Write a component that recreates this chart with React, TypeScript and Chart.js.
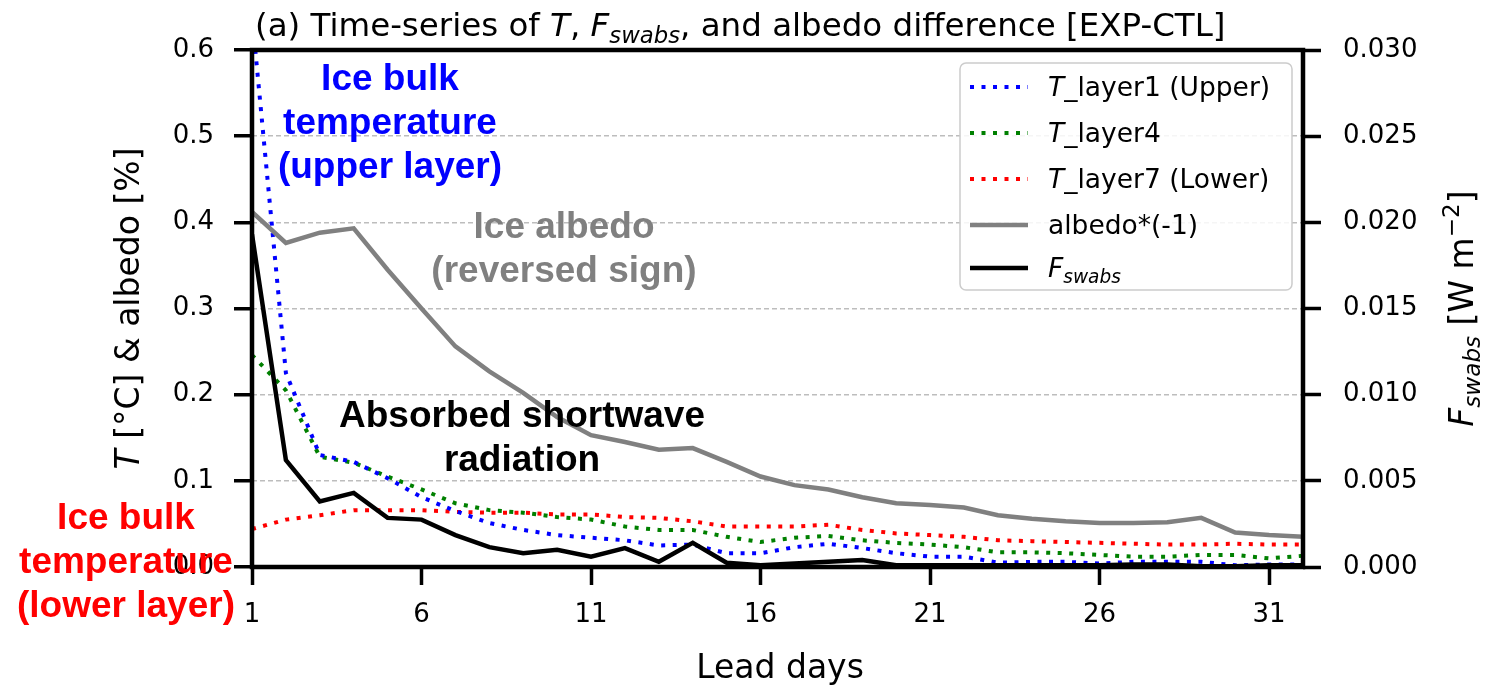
import React, { useEffect, useRef } from "react";
import { Chart, registerables } from "chart.js";

Chart.register(...registerables);

// ---------- data ----------
const days = [1, 2, 3, 4, 5, 6, 7, 8, 9, 10, 11, 12, 13, 14, 15, 16, 17, 18, 19, 20, 21, 22, 23, 24, 25, 26, 27, 28, 29, 30, 31, 32];

const tLayer1 = [0.64, 0.225, 0.13, 0.122, 0.103, 0.081, 0.065, 0.051, 0.043, 0.037, 0.034, 0.031, 0.025, 0.026, 0.016, 0.016, 0.023, 0.027, 0.022, 0.016, 0.012, 0.012, 0.005, 0.006, 0.006, 0.004, 0.006, 0.006, 0.006, 0.002, 0.003, 0.003];

const tLayer4 = [0.246, 0.205, 0.128, 0.121, 0.105, 0.09, 0.074, 0.066, 0.063, 0.058, 0.055, 0.047, 0.043, 0.043, 0.035, 0.029, 0.034, 0.036, 0.031, 0.028, 0.026, 0.023, 0.017, 0.017, 0.016, 0.014, 0.012, 0.012, 0.014, 0.014, 0.01, 0.013];

const tLayer7 = [0.044, 0.055, 0.06, 0.066, 0.066, 0.066, 0.064, 0.063, 0.063, 0.061, 0.061, 0.058, 0.057, 0.053, 0.047, 0.047, 0.047, 0.049, 0.043, 0.039, 0.037, 0.035, 0.031, 0.03, 0.029, 0.028, 0.027, 0.026, 0.026, 0.027, 0.026, 0.026];

const albedoNeg = [0.412, 0.376, 0.388, 0.393, 0.345, 0.3, 0.256, 0.227, 0.202, 0.174, 0.153, 0.145, 0.136, 0.138, 0.122, 0.105, 0.095, 0.09, 0.081, 0.074, 0.072, 0.069, 0.06, 0.056, 0.053, 0.051, 0.051, 0.052, 0.057, 0.04, 0.037, 0.035];

const fSwabs = [0.0193, 0.0062, 0.0038, 0.0043, 0.00285, 0.00275, 0.00185, 0.00115, 0.0008, 0.001, 0.0006, 0.0011, 0.0003, 0.0014, 0.00025, 0.0001, 0.0002, 0.0003, 0.0004, 0.0001, 0.0001, 0.0001, 0.0001, 0.0001, 0.0001, 0.0001, 0.00015, 0.00015, 0.00005, 0.00005, 0.0001, 0.0001];

const xTicks = [1, 6, 11, 16, 21, 26, 31];
const yLeftTicks = [0, 0.1, 0.2, 0.3, 0.4, 0.5, 0.6];
const yRightTicks = [0, 0.005, 0.01, 0.015, 0.02, 0.025, 0.03];

// ---------- rich text helpers ----------
type Seg = { t: string; it?: boolean; sub?: boolean; sup?: boolean; bold?: boolean };
const FAMILY = '"DejaVu Sans"';

function segFont(s: Seg, size: number, family: string) {
  const px = s.sub || s.sup ? size * 0.7 : size;
  return `${s.it ? "italic " : ""}${s.bold ? "bold " : ""}${px}px ${family}`;
}

function richWidth(ctx: CanvasRenderingContext2D, segs: Seg[], size: number, family = FAMILY) {
  let w = 0;
  for (const s of segs) {
    ctx.font = segFont(s, size, family);
    w += ctx.measureText(s.t).width;
  }
  return w;
}

function drawRich(
  ctx: CanvasRenderingContext2D,
  segs: Seg[],
  x: number,
  y: number,
  size: number,
  align: "left" | "center",
  color = "#000",
  family = FAMILY
) {
  const w = richWidth(ctx, segs, size, family);
  let cx = align === "center" ? x - w / 2 : x;
  ctx.textAlign = "left";
  ctx.textBaseline = "alphabetic";
  ctx.fillStyle = color;
  for (const s of segs) {
    ctx.font = segFont(s, size, family);
    let dy = 0;
    if (s.sub) dy = size * 0.22;
    if (s.sup) dy = -size * 0.42;
    ctx.fillText(s.t, cx, y + dy);
    cx += ctx.measureText(s.t).width;
  }
}

const titleSegs: Seg[] = [
  { t: "(a) Time-series of " },
  { t: "T", it: true },
  { t: ", " },
  { t: "F", it: true },
  { t: "swabs", it: true, sub: true },
  { t: ", and albedo difference [EXP-CTL]" },
];
const yLeftTitle: Seg[] = [{ t: "T", it: true }, { t: " [°C] & albedo [%]" }];
const yRightTitle: Seg[] = [
  { t: "F", it: true },
  { t: "swabs", it: true, sub: true },
  { t: " [W m" },
  { t: "\u22122", sup: true },
  { t: "]" },
];

const legendItems: { segs: Seg[]; color: string; dotted: boolean }[] = [
  { segs: [{ t: "T", it: true }, { t: "_layer1 (Upper)" }], color: "#0000ff", dotted: true },
  { segs: [{ t: "T", it: true }, { t: "_layer4" }], color: "#008000", dotted: true },
  { segs: [{ t: "T", it: true }, { t: "_layer7 (Lower)" }], color: "#ff0000", dotted: true },
  { segs: [{ t: "albedo*(-1)" }], color: "#808080", dotted: false },
  { segs: [{ t: "F", it: true }, { t: "swabs", it: true, sub: true }], color: "#000000", dotted: false },
];

const annotations: { lines: string[]; x: number; y: number; color: string }[] = [
  { lines: ["Ice bulk", "temperature", "(upper layer)"], x: 390, y: 90, color: "#0000ff" },
  { lines: ["Ice albedo", "(reversed sign)"], x: 564, y: 238, color: "#808080" },
  { lines: ["Absorbed shortwave", "radiation"], x: 522, y: 427, color: "#000000" },
  { lines: ["Ice bulk", "temperature", "(lower layer)"], x: 126, y: 529, color: "#ff0000" },
];

const overlayPlugin = {
  id: "overlay",
  afterDraw(chart: any) {
    const ctx: CanvasRenderingContext2D = chart.ctx;
    const a = chart.chartArea;
    ctx.save();
    // frame
    ctx.strokeStyle = "#000";
    ctx.lineWidth = 4.5;
    ctx.setLineDash([]);
    ctx.strokeRect(a.left, a.top, a.right - a.left, a.bottom - a.top);

    // title
    drawRich(ctx, titleSegs, 255, 36, 32.5, "left");

    // axis titles
    ctx.save();
    ctx.translate(139, (a.top + a.bottom) / 2);
    ctx.rotate(-Math.PI / 2);
    drawRich(ctx, yLeftTitle, 0, 0, 33, "center");
    ctx.restore();

    ctx.save();
    ctx.translate(1473, (a.top + a.bottom) / 2);
    ctx.rotate(-Math.PI / 2);
    drawRich(ctx, yRightTitle, 0, 0, 33, "center");
    ctx.restore();

    drawRich(ctx, [{ t: "Lead days" }], 780, 678, 33, "center");

    // legend
    const lx = 960, ly = 63, lw = 332, lh = 227;
    ctx.beginPath();
    ctx.roundRect(lx, ly, lw, lh, 6);
    ctx.fillStyle = "rgba(255,255,255,0.85)";
    ctx.fill();
    ctx.strokeStyle = "#cccccc";
    ctx.lineWidth = 1.5;
    ctx.stroke();
    const rowY = [87, 133, 179, 225, 268];
    legendItems.forEach((it, i) => {
      const y = rowY[i];
      ctx.beginPath();
      ctx.strokeStyle = it.color;
      ctx.lineWidth = it.dotted ? 4 : 4.5;
      ctx.lineCap = "butt";
      ctx.setLineDash(it.dotted ? [4, 7.5] : []);
      ctx.moveTo(970, y);
      ctx.lineTo(1028, y);
      ctx.stroke();
      ctx.setLineDash([]);
      drawRich(ctx, it.segs, 1048, y + 9, 26.5, "left");
    });

    // annotations
    const lineGap = 44;
    for (const an of annotations) {
      ctx.font = 'bold 37px "Liberation Sans", Arial, sans-serif';
      ctx.textAlign = "center";
      ctx.textBaseline = "alphabetic";
      ctx.fillStyle = an.color;
      an.lines.forEach((ln, k) => ctx.fillText(ln, an.x, an.y + k * lineGap));
    }
    ctx.restore();
  },
};

const tickFont = { family: "DejaVu Sans", size: 26 };

export default function App() {
  const ref = useRef<HTMLCanvasElement | null>(null);

  useEffect(() => {
    if (!ref.current) return;
    const pts = (vals: number[]) => days.map((d, i) => ({ x: d, y: vals[i] }));
    const dotted = (label: string, vals: number[], color: string) => ({
      label,
      data: pts(vals),
      borderColor: color,
      backgroundColor: color,
      borderWidth: 4,
      borderDash: [4, 7.5],
      borderCapStyle: "butt" as const,
      pointRadius: 0,
      tension: 0,
      yAxisID: "y",
    });
    const chart = new Chart(ref.current, {
      type: "line",
      data: {
        datasets: [
          {
            label: "Fswabs",
            data: pts(fSwabs),
            borderColor: "#000",
            backgroundColor: "#000",
            borderWidth: 4.5,
            pointRadius: 0,
            tension: 0,
            yAxisID: "y2",
          },
          {
            label: "albedo*(-1)",
            data: pts(albedoNeg),
            borderColor: "#808080",
            backgroundColor: "#808080",
            borderWidth: 4.5,
            pointRadius: 0,
            tension: 0,
            yAxisID: "y",
          },
          dotted("T_layer1 (Upper)", tLayer1, "#0000ff"),
          dotted("T_layer4", tLayer4, "#008000"),
          dotted("T_layer7 (Lower)", tLayer7, "#ff0000"),
        ],
      },
      options: {
        responsive: false,
        animation: false,
        devicePixelRatio: 1,
        layout: { padding: { top: 50, left: 0, right: 0, bottom: 0 } },
        plugins: { legend: { display: false }, title: { display: false }, tooltip: { enabled: false } },
        scales: {
          x: {
            type: "linear",
            min: 1,
            max: 32,
            afterFit: (s: any) => {
              s.height = 121;
            },
            afterBuildTicks: (s: any) => {
              s.ticks = xTicks.map((v) => ({ value: v }));
            },
            ticks: { font: tickFont, color: "#000", padding: 15, maxRotation: 0, callback: (v: any) => String(v) },
            grid: { drawOnChartArea: false, drawTicks: true, tickLength: 18, tickColor: "#000", tickWidth: 3.5 },
            border: { display: false },
          },
          y: {
            position: "left",
            min: 0,
            max: 0.6,
            afterFit: (s: any) => {
              s.width = 252;
            },
            afterBuildTicks: (s: any) => {
              s.ticks = yLeftTicks.map((v) => ({ value: v }));
            },
            ticks: { font: tickFont, color: "#000", padding: 20, callback: (v: any) => Number(v).toFixed(1) },
            grid: {
              color: (c: any) => (c.tick && (c.tick.value === 0 || c.tick.value === 0.6) ? "rgba(0,0,0,0)" : "#bdbdbd"),
              lineWidth: 1.5,
              drawTicks: true,
              tickLength: 18,
              tickColor: "#000",
              tickWidth: 3.5,
              tickBorderDash: [],
            },
            border: { display: false, dash: [5, 3] },
          },
          y2: {
            position: "right",
            min: 0,
            max: 0.03,
            afterFit: (s: any) => {
              s.width = 196;
            },
            afterBuildTicks: (s: any) => {
              s.ticks = yRightTicks.map((v) => ({ value: v }));
            },
            ticks: { font: tickFont, color: "#000", padding: 22, callback: (v: any) => Number(v).toFixed(3) },
            grid: { drawOnChartArea: false, drawTicks: true, tickLength: 18, tickColor: "#000", tickWidth: 3.5 },
            border: { display: false },
          },
        },
      } as any,
      plugins: [overlayPlugin],
    });
    return () => chart.destroy();
  }, []);

  return (
    <canvas
      ref={ref}
      width={1499}
      height={688}
      style={{ position: "fixed", left: 0, top: 0, width: 1499, height: 688, display: "block", background: "#fff" }}
    />
  );
}
